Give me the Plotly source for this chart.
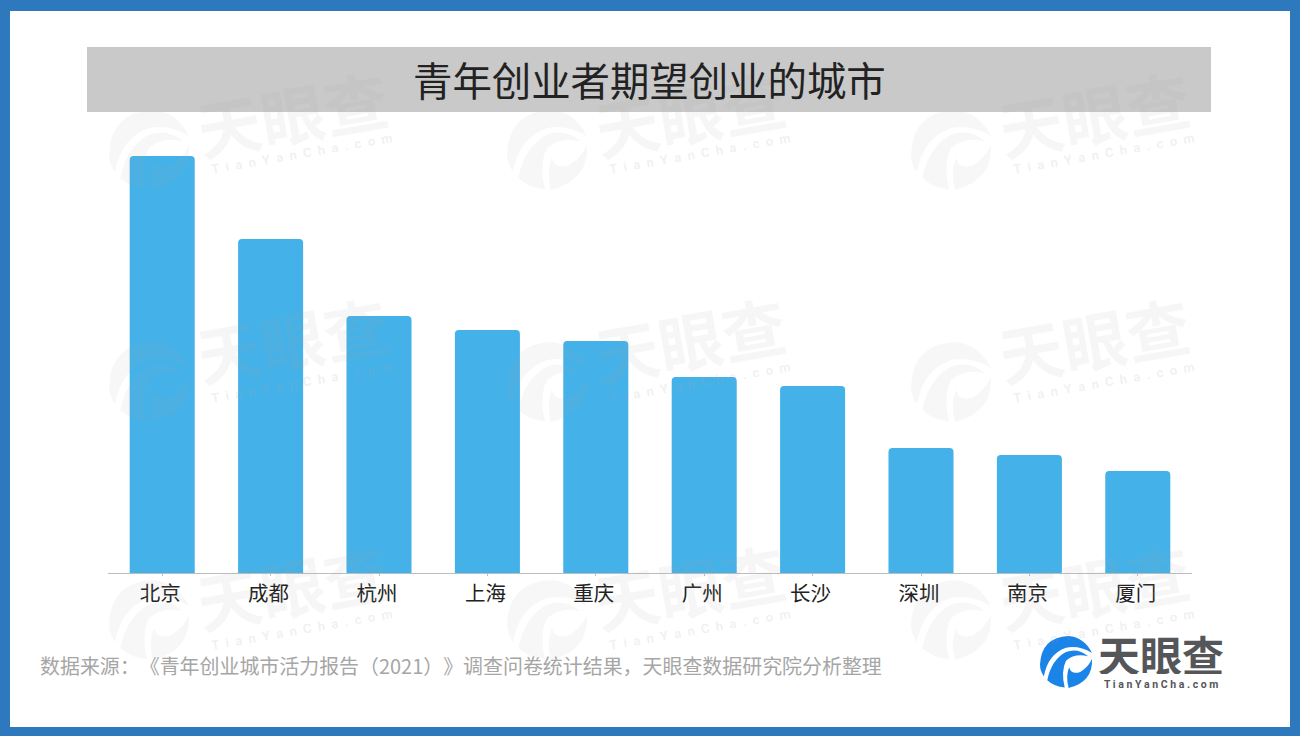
import re
import plotly.graph_objects as go

cities = ["北京", "成都", "杭州", "上海", "重庆", "广州", "长沙", "深圳", "南京", "厦门"]
values = [417, 334, 257, 243, 232, 196, 187, 125, 118, 102]

title_text = "青年创业者期望创业的城市"
source_text = "数据来源：《青年创业城市活力报告（2021）》调查问卷统计结果，天眼查数据研究院分析整理"
brand_cn = "天眼查"
brand_en = "TianYanCha.com"

W, H = 1300, 736
ML, MR, MT, MB = 108, 108, 130, 163
FONT = "Noto Sans CJK SC"


def px(x):
    return (x - ML) / (W - ML - MR)


def py(y):
    return 1 - (y - MT) / (H - MT - MB)


SWIRL = [
    "M -1,0.1 Q -0.95,-0.95 0.1,-1 Q 0.7,-0.95 1,-0.35 Q 0.5,-0.65 0,-0.55 Q -0.7,-0.3 -0.85,0.55 Q -1,0.35 -1,0.1 Z",
    "M -0.72,0.7 Q -0.55,-0.1 0,-0.38 Q 0.45,-0.55 0.85,-0.22 Q 0.35,-0.35 0,-0.05 Q -0.2,0.35 -0.05,0.98 Q -0.45,0.95 -0.72,0.7 Z",
    "M 1,-0.12 Q 1.05,0.75 0.1,1 Q -0.02,0.55 0.12,0.2 Q 0.2,0.5 0.55,0.38 Q 0.85,0.2 1,-0.12 Z",
]


def swirl_shapes(cx, cy, r, color, layer="above"):
    out = []
    for piece in SWIRL:
        def conv(m):
            return f"{px(cx + r * float(m.group(1))):.5f},{py(cy + r * float(m.group(2))):.5f}"
        path = re.sub(r"(-?[\d.]+),(-?[\d.]+)", conv, piece)
        out.append(dict(type="path", xref="paper", yref="paper", path=path, layer=layer,
                        fillcolor=color, line_width=0))
    return out


def label(text, x, y, xanchor="center", **kw):
    return dict(text=text, x=px(x), y=py(y), xref="paper", yref="paper", showarrow=False,
                xanchor=xanchor, yanchor="middle", **kw)


shapes = [
    dict(type="rect", xref="paper", yref="paper", x0=px(0), x1=px(W), y0=py(H), y1=py(0),
         layer="below", fillcolor="#2e78be", line_width=0),
    dict(type="rect", xref="paper", yref="paper", x0=px(10), x1=px(1290), y0=py(727), y1=py(11),
         layer="below", fillcolor="#ffffff", line_width=0),
]

annotations = []
for ox in (0, 398, 802):
    for oy, ty, ey in ((0, 112, 153), (232, 338, 382), (470, 585, 629)):
        shapes += swirl_shapes(149 + ox, 150 + oy, 40, "rgba(170,170,170,0.09)")
        annotations.append(label(f"<b>{brand_cn}</b>", 292 + ox, ty, textangle=-10,
                                 font=dict(family=FONT, size=64, color="rgba(170,170,170,0.10)")))
        annotations.append(label(f"<b>{'  '.join(brand_en)}</b>", 302 + ox, ey, textangle=-10,
                                 font=dict(family="Roboto", size=13, color="rgba(170,170,170,0.18)")))

shapes += swirl_shapes(1066, 662, 26, "#1a84e8")
shapes.append(dict(type="rect", xref="paper", yref="paper", x0=px(87), x1=px(1211), y0=py(112), y1=py(47),
                   layer="above", fillcolor="#c9c9c9", line_width=0))

annotations += [
    label(title_text, 649, 79, font=dict(family=FONT, size=39.4, color="#222222")),
    label(source_text, 48, 665, xanchor="left", font=dict(family=FONT, size=19.95, color="#a6a6a6")),
    label(f"<b>{brand_cn}</b>", 1161, 653, height=42, font=dict(family=FONT, size=42, color="#55565a")),
    label(f"<b>{' '.join(brand_en)}</b>", 1161, 684, font=dict(family="Roboto", size=10.5, color="#55565a")),
]

fig = go.Figure(
    go.Bar(x=cities, y=values, marker=dict(color="#44b1e8", cornerradius=4, line_width=0), width=0.6)
)

fig.update_layout(
    width=W, height=H, margin=dict(l=ML, r=MR, t=MT, b=MB), autosize=False,
    paper_bgcolor="#ffffff", plot_bgcolor="rgba(0,0,0,0)", showlegend=False,
    shapes=shapes, annotations=annotations,
    xaxis=dict(showline=True, linecolor="#bdbdbd", linewidth=1, ticks="outside", ticklen=2,
               tickcolor="#bdbdbd", tickfont=dict(family=FONT, size=20.5, color="#222222"),
               ticklabelshift=-2, showgrid=False, fixedrange=True),
    yaxis=dict(visible=False, range=[0, 443], showgrid=False, zeroline=False, fixedrange=True),
)

fig.write_html("out.html", config=dict(displayModeBar=False),
               post_script="document.body.style.margin='0';document.documentElement.style.overflow='hidden';"
                           "var s=document.createElement('style');s.textContent='text{text-spacing-trim:space-all;}';"
                           "document.head.appendChild(s);")
